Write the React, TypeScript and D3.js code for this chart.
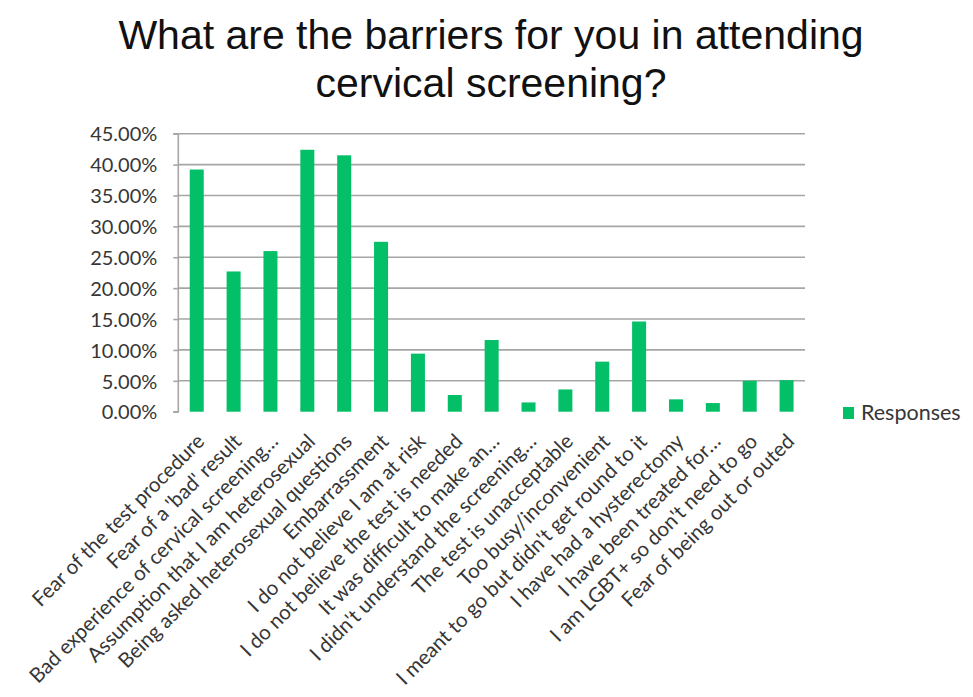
import React, { useEffect, useRef } from 'react';
import * as d3 from 'd3';

const categories = [
  'Fear of the test procedure',
  "Fear of a 'bad' result",
  'Bad experience of cervical screening…',
  'Assumption that I am heterosexual',
  'Being asked heterosexual questions',
  'Embarrassment',
  'I do not believe I am at risk',
  'I do not believe the test is needed',
  'It was difficult to make an…',
  "I didn't understand the screening…",
  'The test is unacceptable',
  'Too busy/inconvenient',
  "I meant to go but didn't get round to it",
  'I have had a hysterectomy',
  'I have been treated for…',
  "I am LGBT+ so don't need to go",
  'Fear of being out or outed',
];

const responses = [
  0.392, 0.227, 0.26, 0.424, 0.415, 0.275, 0.094, 0.027, 0.116,
  0.015, 0.036, 0.081, 0.146, 0.02, 0.014, 0.05, 0.051,
];

const yTicks = [0, 0.05, 0.1, 0.15, 0.2, 0.25, 0.3, 0.35, 0.4, 0.45];

const titleLines = ['What are the barriers for you in attending', 'cervical screening?'];
const seriesName = 'Responses';

const W = 973;
const H = 697;
const BAR = '#03bf67';
const GRID = '#a6a6a6';
const TEXT = '#363636';
const LABEL_FONT = 'Lato, "Open Sans", sans-serif';

export default function App() {
  const svgRef = useRef<SVGSVGElement>(null);

  useEffect(() => {
    if (!svgRef.current) return;
    const svg = d3.select(svgRef.current);
    svg.selectAll('*').remove();

    const plot = { left: 178.3, right: 805, top: 133.7, bottom: 411.7 };

    const x = d3.scaleBand<string>()
      .domain(categories)
      .range([plot.left, plot.right])
      .paddingInner(0.62)
      .paddingOuter(0.31);

    const y = d3.scaleLinear()
      .domain([0, 0.45])
      .range([plot.bottom, plot.top]);

    svg.append('rect').attr('width', W).attr('height', H).attr('fill', '#fff');

    // title
    svg.append('g')
      .selectAll('text')
      .data(titleLines)
      .join('text')
      .attr('x', 491)
      .attr('y', (_d, i) => 48.5 + i * 48.5)
      .attr('text-anchor', 'middle')
      .attr('font-family', '"Liberation Sans", Arial, sans-serif')
      .attr('font-size', 41)
      .attr('fill', '#111')
      .text(d => d);

    // gridlines
    svg.append('g')
      .selectAll('line')
      .data(yTicks.slice(1))
      .join('line')
      .attr('x1', plot.left)
      .attr('x2', plot.right)
      .attr('y1', d => y(d))
      .attr('y2', d => y(d))
      .attr('stroke', GRID)
      .attr('stroke-width', 1.6);

    // y axis
    svg.append('g')
      .attr('transform', `translate(${plot.left},0)`)
      .call(d3.axisLeft(y).tickValues(yTicks).tickFormat(d3.format('.2%')).tickSize(5).tickPadding(16))
      .call((g: any) => g.select('.domain').attr('stroke', GRID).attr('stroke-width', 1.6).attr('d', `M-5,${plot.top}H0V${plot.bottom}H-5`))
      .call((g: any) => g.selectAll('line').attr('stroke', GRID).attr('stroke-width', 1.6))
      .call((g: any) => g.selectAll('text')
        .attr('fill', TEXT)
        .attr('font-family', LABEL_FONT)
        .attr('font-size', 20)
        .attr('dy', '0.36em'));

    // bars
    svg.append('g')
      .selectAll('rect')
      .data(responses)
      .join('rect')
      .attr('x', (_d, i) => x(categories[i]) as number)
      .attr('y', d => y(d))
      .attr('width', x.bandwidth())
      .attr('height', d => plot.bottom - y(d))
      .attr('fill', BAR);

    // category labels
    svg.append('g')
      .selectAll('text')
      .data(categories)
      .join('text')
      .attr('transform', d => {
        const cx = (x(d) as number) + x.bandwidth() / 2 + 9;
        const cy = plot.bottom + 31;
        return `translate(${cx},${cy}) rotate(-45)`;
      })
      .attr('text-anchor', 'end')
      .attr('font-family', LABEL_FONT)
      .attr('font-size', 20.5)
      .attr('fill', TEXT)
      .text(d => d);

    // legend
    const legend = svg.append('g').attr('transform', 'translate(843,407)');
    legend.append('rect').attr('width', 11).attr('height', 12).attr('fill', BAR);
    legend.append('text')
      .attr('x', 18)
      .attr('y', 12.5)
      .attr('font-family', LABEL_FONT)
      .attr('font-size', 21.5)
      .attr('fill', TEXT)
      .text(seriesName);
  }, []);

  return (
    <>
      <style>{'body{margin:0}'}</style>
      <svg ref={svgRef} width={W} height={H} style={{ display: 'block' }} />
    </>
  );
}
